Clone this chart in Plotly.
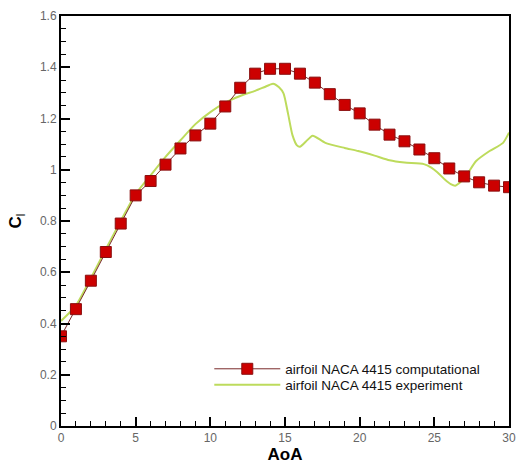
import plotly.graph_objects as go

# Computational data (every degree)
aoa_comp = list(range(0, 31))
cl_comp = [0.350, 0.456, 0.567, 0.679, 0.790, 0.900, 0.956, 1.020, 1.083, 1.134,
           1.180, 1.247, 1.320, 1.375, 1.394, 1.394, 1.375, 1.340, 1.295, 1.253,
           1.220, 1.176, 1.137, 1.111, 1.079, 1.045, 1.005, 0.974, 0.951, 0.938, 0.932]

# Experiment data
aoa_exp = [0, 1, 2, 3, 4, 5, 6, 7, 8, 9, 10, 11, 12, 13, 13.6, 14.2, 14.6, 14.9,
           15.2, 15.5, 15.8, 16.0, 16.4, 16.85, 17.7, 19.0, 19.9, 21.0, 22.0, 23.0,
           24.3, 24.8, 25.2, 25.7, 26.1, 26.4, 26.8, 27.2, 27.8, 28.7, 29.6, 30.0]
cl_exp = [0.410, 0.470, 0.577, 0.690, 0.800, 0.905, 0.978, 1.050, 1.115, 1.178,
          1.225, 1.262, 1.288, 1.308, 1.322, 1.336, 1.322, 1.298, 1.220, 1.135,
          1.095, 1.090, 1.110, 1.133, 1.105, 1.085, 1.073, 1.055, 1.037, 1.028,
          1.022, 1.008, 0.990, 0.962, 0.944, 0.938, 0.955, 0.983, 1.034, 1.073,
          1.105, 1.145]

fig = go.Figure()
fig.add_trace(go.Scatter(
    x=aoa_exp, y=cl_exp, mode="lines", name="airfoil NACA 4415 experiment",
    line=dict(color="#bddb5c", width=2, shape="spline", smoothing=0.6),
    legend="legend2",
))
fig.add_trace(go.Scatter(
    x=aoa_comp, y=cl_comp, mode="lines+markers", name="airfoil NACA 4415 computational",
    line=dict(color="#7a2a2a", width=1),
    marker=dict(symbol="square", size=11, color="#cc0000",
                line=dict(color="#8a0f0f", width=1)),
    legend="legend",
))

axis_common = dict(
    showgrid=False, zeroline=False, showline=True, linecolor="black", linewidth=2,
    mirror=True, ticks="inside", ticklen=9, tickwidth=2, tickcolor="black",
    tickfont=dict(family="Liberation Sans, Arial", size=12, color="#666666"),
)

legend_common = dict(
    xanchor="left", yanchor="middle",
    font=dict(family="Liberation Sans, Arial", size=13.5, color="#111111"),
    bgcolor="rgba(0,0,0,0)", itemwidth=66,
)

fig.update_layout(
    width=525, height=468,
    margin=dict(l=61, r=9, t=15, b=38),
    paper_bgcolor="white", plot_bgcolor="white",
    showlegend=True,
    legend=dict(x=0.331, y=0.139, **legend_common),
    legend2=dict(x=0.331, y=0.100, **legend_common),
    xaxis=dict(
        range=[0, 30], dtick=5, tick0=0,
        minor=dict(dtick=1, ticks="inside", ticklen=5, tickwidth=1, tickcolor="black"),
        title=dict(text="<b>AoA</b>", font=dict(family="Liberation Sans, Arial", size=17, color="black"),
                   standoff=2),
        **axis_common,
    ),
    yaxis=dict(
        range=[0, 1.6], dtick=0.2, tick0=0,
        minor=dict(dtick=0.05, ticks="inside", ticklen=5, tickwidth=1, tickcolor="black"),
        title=dict(text="<b>C</b><sub>l</sub>", font=dict(family="Liberation Sans, Arial", size=17, color="black"),
                   standoff=14),
        **axis_common,
    ),
)

fig.write_html("out.html")
